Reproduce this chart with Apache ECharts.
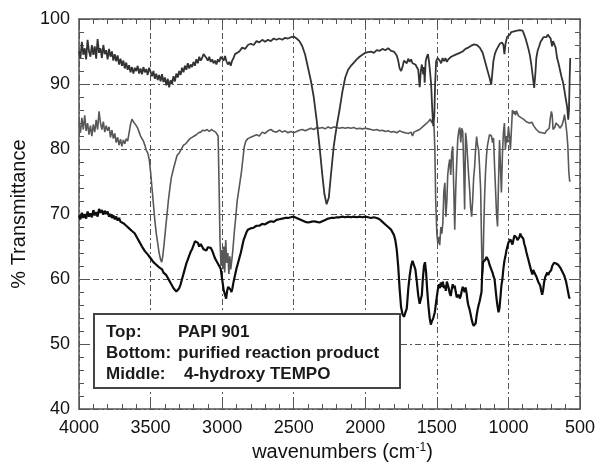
<!DOCTYPE html>
<html>
<head>
<meta charset="utf-8">
<script src="https://cdn.jsdelivr.net/npm/echarts/dist/echarts.min.js"></script>
<style>
html,body{margin:0;padding:0;background:#fff;}
#chart{width:598px;height:467px;}
</style>
</head>
<body>
<div id="chart"></div>
<script>
// ---- Data (wavenumber cm-1, % transmittance) ----
var topSpectrum = [
[4000,95.0],[3990,94.0],[3980,96.5],[3970,94.5],[3960,95.5],[3950,93.8],[3940,96.8],[3930,95.0],[3920,94.2],[3910,96.0],
[3900,94.5],[3890,95.8],[3880,93.9],[3870,96.9],[3860,94.8],[3850,95.5],[3840,94.0],[3830,96.0],[3820,94.6],[3810,95.2],
[3800,93.8],[3790,95.4],[3780,94.2],[3770,95.0],[3760,93.6],[3750,94.6],[3740,93.5],[3730,94.4],[3720,93.0],[3710,93.9],
[3700,92.8],[3690,93.6],[3680,92.4],[3670,93.3],[3660,92.2],[3650,92.9],[3640,91.8],[3630,92.6],[3620,91.6],[3610,92.5],
[3600,92.0],[3590,92.8],[3580,91.6],[3570,92.4],[3560,91.5],[3550,92.6],[3540,91.8],[3530,92.3],[3520,91.4],[3510,92.5],
[3500,91.9],[3490,91.2],[3480,92.0],[3470,90.8],[3460,91.6],[3450,90.6],[3440,91.4],[3430,90.4],[3420,91.5],[3410,90.3],
[3400,91.0],[3390,89.8],[3380,90.8],[3370,89.5],[3360,90.6],[3350,90.0],[3340,91.2],[3330,90.4],[3320,91.6],[3310,91.0],
[3300,92.0],[3290,91.4],[3280,92.5],[3270,91.8],[3260,92.8],[3250,92.2],[3240,93.2],[3230,92.4],[3220,93.0],[3210,92.6],
[3200,93.4],[3190,92.8],[3180,93.8],[3170,93.2],[3160,94.2],[3150,93.6],[3140,94.0],[3130,94.6],[3120,94.8],[3110,94.0],
[3100,93.6],[3090,94.2],[3080,93.4],[3070,93.8],[3060,93.2],[3050,93.6],[3040,93.0],[3030,93.8],[3020,93.4],[3010,94.2],
[3000,94.0],[2990,93.6],[2980,94.3],[2970,93.5],[2960,93.0],[2950,93.4],[2940,92.8],[2930,93.6],[2920,94.0],[2910,94.6],
[2900,94.4],[2880,95.0],[2860,95.6],[2840,95.4],[2820,96.0],[2800,96.2],[2780,96.0],[2760,96.6],[2740,96.4],[2720,96.8],
[2700,96.5],[2680,96.8],[2660,96.6],[2640,97.0],[2620,96.8],[2600,97.0],[2580,96.8],[2560,97.1],[2540,97.0],[2520,97.2],
[2500,97.3],[2480,97.0],[2460,96.6],[2440,95.8],[2420,94.5],[2400,92.5],[2380,90.5],[2360,88.0],[2340,84.5],[2320,80.5],
[2300,76.0],[2285,73.0],[2270,71.5],[2255,72.5],[2240,76.0],[2220,80.5],[2200,83.5],[2180,86.0],[2160,88.8],[2140,91.0],
[2120,92.2],[2100,92.8],[2080,93.3],[2060,93.8],[2040,94.2],[2020,94.5],[2000,94.8],[1980,94.9],[1960,95.0],[1940,94.8],
[1920,95.2],[1900,95.1],[1880,95.4],[1860,95.2],[1840,95.5],[1820,95.1],[1800,95.0],[1780,94.4],[1770,93.6],[1760,92.4],
[1750,92.0],[1740,92.6],[1730,93.6],[1720,93.8],[1710,93.2],[1700,93.9],[1690,93.4],[1680,93.8],[1670,93.2],[1660,93.5],
[1650,93.0],[1640,92.8],[1630,92.2],[1620,89.5],[1612,92.0],[1605,93.0],[1595,91.5],[1590,92.6],[1585,90.2],[1578,93.5],
[1570,94.2],[1562,94.6],[1555,93.5],[1548,92.0],[1540,90.0],[1532,86.0],[1525,83.5],[1518,85.0],[1512,90.0],[1505,93.5],
[1495,94.0],[1480,93.6],[1470,93.2],[1460,94.0],[1450,93.5],[1440,94.0],[1430,93.4],[1420,93.8],[1400,94.2],[1380,94.4],
[1360,94.6],[1340,94.8],[1320,95.0],[1300,95.4],[1280,95.6],[1260,95.9],[1240,96.1],[1220,96.0],[1200,95.6],[1180,94.8],
[1165,93.6],[1150,92.4],[1140,91.6],[1130,90.8],[1120,89.9],[1112,91.8],[1105,93.5],[1095,94.6],[1085,95.2],[1075,95.6],
[1060,96.2],[1045,96.4],[1035,96.0],[1028,94.6],[1020,96.2],[1010,97.2],[1000,97.5],[990,97.6],[980,98.0],[970,97.8],
[960,98.1],[950,97.9],[940,98.2],[930,97.9],[920,98.3],[910,98.1],[900,98.2],[890,97.6],[880,97.0],[870,96.2],
[860,95.4],[850,94.4],[840,93.0],[830,91.2],[820,89.4],[812,91.5],[805,94.0],[795,95.2],[785,95.8],[775,96.5],
[765,96.8],[755,97.2],[745,97.5],[735,97.2],[725,97.6],[715,97.8],[705,97.0],[695,95.8],[688,96.6],[680,96.8],
[670,95.6],[660,94.0],[650,93.2],[640,92.2],[630,91.2],[620,90.4],[610,89.2],[600,87.8],[590,86.5],[582,84.5],
[577,86.0],[572,91.0],[568,94.0]
];

var middleSpectrum = [
[4000,84.0],[3990,82.5],[3980,84.8],[3970,83.0],[3960,85.2],[3950,82.8],[3940,84.0],[3930,82.2],[3920,83.6],[3910,82.0],
[3900,83.8],[3890,82.6],[3880,84.5],[3870,83.0],[3860,85.8],[3850,84.0],[3840,83.0],[3830,84.2],[3820,82.6],[3810,83.6],
[3800,82.8],[3790,83.4],[3780,81.8],[3770,82.9],[3760,81.6],[3750,82.4],[3740,81.0],[3730,81.8],[3720,80.6],[3710,81.5],
[3700,80.4],[3690,81.4],[3680,80.8],[3670,81.6],[3660,81.2],[3650,82.5],[3640,83.8],[3630,84.6],[3620,84.2],[3610,84.4],
[3600,83.6],[3590,83.2],[3580,82.6],[3570,82.0],[3560,81.6],[3550,81.2],[3540,80.6],[3530,79.8],[3520,79.4],[3510,78.5],
[3500,76.5],[3490,74.0],[3480,71.5],[3470,69.0],[3460,67.0],[3450,65.5],[3440,64.0],[3430,63.0],[3422,62.6],[3415,63.5],
[3405,65.5],[3395,67.8],[3385,70.0],[3375,72.2],[3365,74.0],[3355,75.6],[3345,76.5],[3335,77.4],[3325,78.2],[3315,79.0],
[3300,79.4],[3285,80.0],[3270,80.6],[3255,80.8],[3240,81.2],[3225,81.6],[3210,81.8],[3195,82.0],[3180,82.2],[3165,82.5],
[3150,82.6],[3135,82.9],[3120,82.8],[3105,83.0],[3090,82.7],[3075,83.0],[3060,82.8],[3045,82.6],[3035,82.9],[3028,82.0],
[3022,75.0],[3015,66.0],[3008,62.0],[3000,64.5],[2995,61.5],[2988,65.0],[2982,61.0],[2975,66.0],[2968,62.5],[2960,64.0],
[2953,60.8],[2946,63.5],[2940,61.5],[2932,63.0],[2925,64.5],[2915,67.2],[2905,69.5],[2895,72.0],[2885,73.5],[2875,75.0],
[2865,76.5],[2855,78.5],[2845,80.4],[2835,81.2],[2820,81.6],[2800,81.8],[2780,82.0],[2760,82.2],[2740,82.0],[2720,82.6],
[2700,82.4],[2680,82.8],[2660,83.0],[2640,82.7],[2620,82.6],[2600,82.9],[2580,82.6],[2560,82.8],[2540,82.5],[2520,82.7],
[2500,82.5],[2480,82.7],[2460,82.9],[2440,83.0],[2420,82.8],[2400,83.0],[2380,83.2],[2360,83.0],[2340,83.3],[2320,83.2],
[2300,83.3],[2280,83.1],[2260,83.4],[2240,83.2],[2220,83.4],[2200,83.3],[2180,83.2],[2160,83.3],[2140,83.2],[2120,83.3],
[2100,83.2],[2080,83.3],[2060,83.1],[2040,83.2],[2020,83.1],[2000,83.2],[1980,83.1],[1960,83.0],[1940,82.9],[1920,83.0],
[1900,82.8],[1880,82.9],[1860,82.7],[1840,82.8],[1820,82.6],[1800,82.7],[1780,82.5],[1760,82.8],[1740,82.6],[1720,82.5],
[1700,82.4],[1680,82.6],[1670,82.0],[1660,82.6],[1640,82.8],[1620,83.0],[1600,83.4],[1580,83.8],[1560,84.2],[1545,84.6],
[1535,84.0],[1528,84.5],[1520,83.6],[1514,80.0],[1508,72.0],[1500,67.0],[1493,65.5],[1486,66.5],[1480,65.2],[1472,68.0],
[1465,67.0],[1458,68.7],[1451,73.5],[1444,74.8],[1437,69.6],[1430,72.0],[1424,76.0],[1417,77.5],[1410,78.4],[1403,76.0],
[1396,79.5],[1389,80.4],[1382,74.0],[1375,67.6],[1368,73.8],[1361,78.0],[1354,81.5],[1347,82.8],[1340,83.3],[1333,81.0],
[1326,83.2],[1319,82.7],[1312,77.0],[1306,70.7],[1299,82.5],[1292,81.0],[1285,78.5],[1278,76.0],[1271,73.8],[1264,71.0],
[1257,69.6],[1250,72.0],[1243,75.5],[1236,77.3],[1229,80.0],[1222,81.9],[1215,80.5],[1208,79.9],[1201,77.0],[1194,73.8],
[1188,66.0],[1183,60.5],[1178,61.5],[1172,68.0],[1166,73.0],[1160,76.4],[1153,79.0],[1146,80.6],[1139,81.4],[1132,82.2],
[1125,82.5],[1118,82.0],[1111,81.0],[1104,81.7],[1097,77.5],[1090,73.8],[1083,70.0],[1076,68.1],[1069,75.0],[1062,81.4],
[1055,77.0],[1049,73.3],[1042,79.0],[1035,82.5],[1028,84.0],[1021,79.9],[1014,82.0],[1007,81.0],[1000,83.4],[993,82.0],
[986,79.9],[979,83.0],[972,86.0],[965,85.4],[958,85.8],[950,85.2],[944,85.9],[937,85.6],[930,85.1],[920,85.4],
[910,84.8],[903,85.0],[895,84.6],[885,84.8],[875,84.2],[865,84.4],[854,84.0],[845,83.8],[835,84.1],[825,83.6],
[815,83.4],[805,83.0],[795,82.8],[785,82.6],[775,82.4],[765,82.5],[755,82.6],[745,82.4],[735,82.8],[725,83.0],
[715,83.2],[708,84.6],[700,85.8],[694,85.2],[688,83.0],[681,82.7],[675,83.4],[668,84.0],[660,84.2],[650,83.6],
[640,83.2],[630,83.5],[625,83.7],[615,84.5],[608,85.3],[600,84.0],[592,82.5],[585,80.5],[578,76.5],[572,75.0],[568,75.2]
];

var bottomSpectrum = [
[4000,69.8],[3990,69.2],[3980,70.2],[3970,69.4],[3960,70.0],[3950,69.3],[3940,70.4],[3930,69.6],[3920,70.1],[3910,69.5],
[3900,70.6],[3890,69.8],[3880,70.3],[3870,69.6],[3860,70.8],[3850,70.2],[3840,70.6],[3830,69.9],[3820,70.5],[3810,70.0],
[3800,70.4],[3790,69.6],[3780,70.0],[3770,69.4],[3760,69.8],[3750,69.2],[3740,69.6],[3730,69.0],[3720,69.4],[3710,68.8],
[3700,69.0],[3690,68.6],[3680,68.9],[3670,68.2],[3660,68.5],[3650,67.8],[3640,68.0],[3630,67.4],[3620,67.6],[3610,67.0],
[3600,66.6],[3590,66.2],[3580,65.8],[3570,65.5],[3560,65.0],[3550,64.8],[3540,64.3],[3530,64.2],[3520,63.8],[3510,63.6],
[3500,63.2],[3490,63.0],[3480,62.6],[3470,62.6],[3460,62.2],[3450,62.0],[3440,61.8],[3430,61.8],[3420,61.5],[3410,61.0],
[3400,61.0],[3390,60.6],[3380,60.2],[3370,59.8],[3360,59.4],[3350,59.0],[3340,58.6],[3330,58.3],[3320,58.1],[3310,58.2],
[3300,58.6],[3290,59.2],[3280,60.0],[3270,60.8],[3260,61.6],[3250,62.4],[3240,63.0],[3230,63.6],[3220,64.2],[3210,64.6],
[3200,65.2],[3190,65.8],[3180,66.0],[3170,65.6],[3160,65.0],[3150,65.4],[3140,65.0],[3130,64.6],[3120,64.8],[3110,64.4],
[3100,64.9],[3090,65.2],[3080,64.8],[3070,64.4],[3060,63.8],[3050,63.2],[3040,63.0],[3030,62.4],[3020,62.6],[3010,61.6],
[3000,60.0],[2990,58.4],[2980,57.6],[2972,57.0],[2965,58.2],[2958,58.8],[2950,59.0],[2942,58.4],[2935,58.0],[2928,58.6],
[2920,59.6],[2910,60.6],[2900,61.6],[2890,62.4],[2880,63.2],[2870,64.0],[2860,65.0],[2850,66.0],[2840,66.6],[2830,67.2],
[2820,67.6],[2800,67.8],[2780,67.9],[2760,68.2],[2740,68.2],[2720,68.5],[2700,68.4],[2680,68.7],[2660,68.9],[2640,68.8],
[2620,69.1],[2600,69.2],[2580,69.3],[2560,69.4],[2540,69.4],[2520,69.5],[2500,69.6],[2480,69.4],[2460,69.2],[2440,69.0],
[2420,68.8],[2400,68.7],[2380,68.8],[2360,68.9],[2340,68.8],[2320,68.7],[2300,68.9],[2280,69.1],[2260,69.3],[2240,69.4],
[2220,69.4],[2200,69.5],[2180,69.5],[2160,69.6],[2140,69.5],[2120,69.6],[2100,69.5],[2080,69.6],[2060,69.5],[2040,69.6],
[2020,69.5],[2000,69.6],[1980,69.5],[1960,69.4],[1940,69.5],[1920,69.4],[1900,69.2],[1880,68.8],[1860,68.4],[1840,68.0],
[1820,67.6],[1800,66.8],[1790,66.0],[1780,64.5],[1770,62.0],[1760,58.5],[1750,55.7],[1740,54.6],[1730,54.2],[1720,54.1],
[1710,55.5],[1700,58.4],[1690,60.5],[1680,62.0],[1670,62.8],[1660,62.6],[1650,61.5],[1640,59.6],[1630,57.5],[1620,56.2],
[1612,56.0],[1605,57.5],[1598,60.0],[1590,62.0],[1583,62.6],[1575,61.0],[1568,58.5],[1560,56.2],[1550,54.0],[1542,53.0],
[1535,53.5],[1525,54.0],[1514,54.9],[1505,56.5],[1493,58.4],[1485,59.2],[1478,58.6],[1472,59.5],[1465,58.8],[1458,59.6],
[1451,58.6],[1444,59.0],[1437,58.2],[1430,59.6],[1424,59.5],[1417,58.6],[1410,57.8],[1403,57.4],[1396,58.4],[1389,59.2],
[1382,58.6],[1375,59.0],[1368,58.0],[1361,57.2],[1354,56.9],[1347,57.6],[1340,57.0],[1333,57.4],[1326,58.2],[1319,58.8],
[1312,58.4],[1306,58.0],[1299,58.7],[1292,57.8],[1285,56.5],[1278,55.8],[1271,55.3],[1264,54.6],[1257,53.8],[1250,53.2],
[1243,52.8],[1236,52.6],[1229,53.2],[1222,54.4],[1215,55.3],[1208,56.0],[1201,56.6],[1194,56.9],[1188,58.0],[1183,61.0],
[1178,62.6],[1172,62.9],[1166,62.4],[1160,63.0],[1153,63.4],[1146,63.5],[1139,62.8],[1132,62.2],[1125,61.8],[1118,61.6],
[1111,61.0],[1104,60.4],[1097,60.0],[1090,58.5],[1083,57.0],[1076,55.8],[1069,54.9],[1062,55.6],[1055,57.4],[1049,59.0],
[1042,60.0],[1035,61.6],[1028,62.8],[1021,63.5],[1014,64.4],[1007,65.0],[1000,65.6],[993,65.4],[986,66.1],[979,66.4],
[972,65.3],[965,66.0],[958,66.7],[951,66.9],[944,66.4],[937,66.0],[930,66.2],[924,66.4],[917,67.0],[910,66.6],
[903,66.9],[896,66.2],[889,65.4],[882,64.9],[875,64.2],[868,63.6],[861,63.0],[854,62.7],[847,61.8],[840,61.2],
[833,60.7],[826,61.4],[819,61.0],[812,61.0],[805,60.4],[798,60.0],[792,59.6],[785,59.6],[778,59.0],[771,58.2],
[764,57.6],[757,58.4],[750,59.6],[743,60.3],[736,60.6],[729,61.0],[722,60.6],[715,61.0],[708,60.8],[701,61.4],
[694,62.0],[688,62.3],[681,62.5],[674,62.6],[667,62.4],[660,62.4],[653,62.2],[646,62.0],[639,61.8],[632,61.6],
[625,61.2],[618,60.9],[611,60.6],[604,60.3],[597,59.6],[590,58.8],[583,58.0],[576,57.2],[570,57.0]
];

var legendRoles = ['Top:', 'Bottom:', 'Middle:'];
var legendNames = ['PAPI 901', 'purified reaction product', '4-hydroxy TEMPO'];
var xRange = [500, 4000];   // wavenumbers, shown high -> low
var yRange = [40, 100];
var xTitle = 'wavenumbers (cm{sup|-1})';
var yTitle = '% Transmittance';

// ---- Chart ----
var chart = echarts.init(document.getElementById('chart'), null, {renderer: 'canvas'});
var FONT = 'Liberation Sans, Arial, Helvetica, sans-serif';
var axisColor = '#555';
var gridDash = [6, 3, 2, 3];

function xAxisCfg(pos, primary) {
  return {
    type: 'value', position: pos, min: xRange[0], max: xRange[1], interval: 500, inverse: true,
    axisLine: {show: true, onZero: false, lineStyle: {color: axisColor, width: 1.5}},
    axisTick: {show: true, inside: true, length: 9, lineStyle: {color: axisColor, width: 1}},
    minorTick: {show: true, splitNumber: 5, length: 5, lineStyle: {color: axisColor, width: 1}},
    axisLabel: {show: primary, color: '#111', fontSize: 18, fontFamily: FONT, margin: 10,
      formatter: function (v) { return String(v); }},
    splitLine: {show: primary, lineStyle: {color: '#555', width: 1, type: gridDash}},
    name: primary ? xTitle : '', nameLocation: 'middle', nameGap: 32,
    nameTextStyle: {color: '#111', fontSize: 20, fontFamily: FONT, padding: [0, 0, 0, 26],
      rich: {sup: {fontSize: 12, fontFamily: FONT, color: '#111', verticalAlign: 'top', padding: [0, 0, 8, 0]}}}
  };
}
function yAxisCfg(pos, primary) {
  return {
    type: 'value', position: pos, min: yRange[0], max: yRange[1], interval: 10,
    axisLine: {show: true, onZero: false, lineStyle: {color: axisColor, width: 1.5}},
    axisTick: {show: true, inside: true, length: 9, lineStyle: {color: axisColor, width: 1}},
    minorTick: {show: true, splitNumber: 5, length: 5, lineStyle: {color: axisColor, width: 1}},
    axisLabel: {show: primary, color: '#111', fontSize: 18, fontFamily: FONT, margin: 9},
    splitLine: {show: primary, lineStyle: {color: '#555', width: 1, type: gridDash}},
    name: primary ? yTitle : '', nameLocation: 'middle', nameGap: 50,
    nameTextStyle: {color: '#111', fontSize: 20, fontFamily: FONT}
  };
}

var boxX = 93, boxY = 313, rowH = 21;
var legendGraphics = [{
  type: 'rect', left: boxX, top: boxY, z: 100,
  shape: {width: 306, height: 74},
  style: {fill: '#fff', stroke: '#444', lineWidth: 2}
}];
var nameX = [178, 178, 184];
for (var i = 0; i < legendRoles.length; i++) {
  legendGraphics.push({type: 'text', left: 106, top: boxY + 11 + i * rowH, z: 101,
    style: {text: legendRoles[i], fill: '#1a1a1a', font: 'bold 17px ' + FONT}});
  legendGraphics.push({type: 'text', left: nameX[i], top: boxY + 11 + i * rowH, z: 101,
    style: {text: legendNames[i], fill: '#1a1a1a', font: 'bold 17px ' + FONT}});
}

chart.setOption({
  animation: false,
  backgroundColor: '#fff',
  grid: {left: 79, right: 15, top: 19, bottom: 57, containLabel: false},
  xAxis: [xAxisCfg('bottom', true), xAxisCfg('top', false)],
  yAxis: [yAxisCfg('left', true), yAxisCfg('right', false)],
  series: [
    {name: legendNames[0], type: 'line', data: topSpectrum, showSymbol: false, symbol: 'none',
     lineStyle: {color: '#333333', width: 1.8}, z: 3},
    {name: legendNames[2], type: 'line', data: middleSpectrum, showSymbol: false, symbol: 'none',
     lineStyle: {color: '#585858', width: 1.6}, z: 2},
    {name: legendNames[1], type: 'line', data: bottomSpectrum, showSymbol: false, symbol: 'none',
     lineStyle: {color: '#0d0d0d', width: 2.2}, z: 4}
  ],
  graphic: legendGraphics
});
</script>
</body>
</html>
